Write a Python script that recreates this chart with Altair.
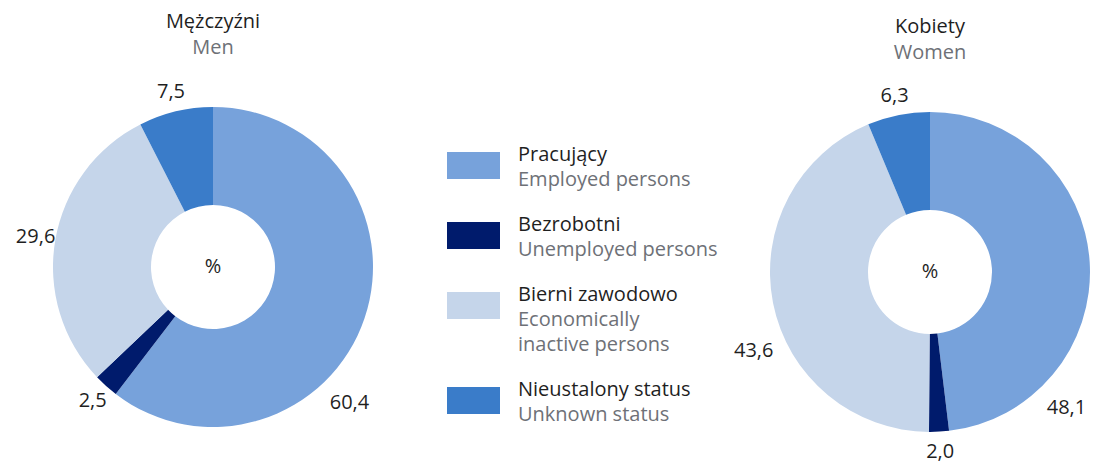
import altair as alt
import pandas as pd

# ---- data ----
categories_pl = ["Pracujący", "Bezrobotni", "Bierni zawodowo", "Nieustalony status"]
categories_en = [["Employed persons"], ["Unemployed persons"],
                 ["Economically", "inactive persons"], ["Unknown status"]]
men_values = [60.4, 2.5, 29.6, 7.5]
women_values = [48.1, 2.0, 43.6, 6.3]
colors = ["#77A2DB", "#001B6C", "#C5D5EA", "#3A7CC9"]

# ---- style ----
FONT = "Open Sans"
DARK = "#1f1f1f"
GRAY = "#6e7177"
FS = 20
OUTER, INNER = 160, 62
LABEL_R = 180
LABEL_R_MOVED = 193
W, H = 1082, 456

color_scale = alt.Scale(domain=categories_pl, range=colors)


def text_layer(df, color, **enc):
    return alt.Chart(df).mark_text(
        fontSize=FS, font=FONT, color=color, baseline="alphabetic", align="center"
    ).encode(**enc)


def pie(values, title, subtitle, cx, cy, title_y, label_angles):
    df = pd.DataFrame({"cat": categories_pl, "order": list(range(len(values))), "value": values})
    arcs = alt.Chart(df).mark_arc(outerRadius=OUTER, innerRadius=INNER).encode(
        theta=alt.Theta("value:Q", stack=True),
        order=alt.Order("order:Q", sort="ascending"),
        color=alt.Color("cat:N", scale=color_scale, legend=None),
        x=alt.value(cx),
        y=alt.value(cy),
    )
    # manual label placement (angle in degrees) for some slices, mid-angle otherwise
    ang_expr = "datum.mid"
    r_expr = str(LABEL_R)
    for k, deg in label_angles.items():
        ang_expr = f"datum.order == {k} ? {deg} * PI / 180 : ({ang_expr})"
        r_expr = f"datum.order == {k} ? {LABEL_R_MOVED} : ({r_expr})"
    labels = alt.Chart(df).transform_joinaggregate(total="sum(value)").transform_window(
        cum="sum(value)", sort=[alt.SortField("order")], frame=[None, 0]
    ).transform_calculate(
        mid="(datum.cum - datum.value / 2) / datum.total * 2 * PI",
        ang=ang_expr,
        rr=r_expr,
    ).transform_calculate(
        lx=f"{cx} + datum.rr * sin(datum.ang)",
        ly=f"{cy} - datum.rr * cos(datum.ang)",
        lab="replace(format(datum.value, '.1f'), '.', ',')",
    ).mark_text(fontSize=FS, font=FONT, color=DARK, baseline="middle", align="center").encode(
        x=alt.X("lx:Q", scale=None, axis=None),
        y=alt.Y("ly:Q", scale=None, axis=None),
        text="lab:N",
    )
    pct = alt.Chart(pd.DataFrame({"t": ["%"]})).mark_text(
        fontSize=FS, font=FONT, color=DARK, baseline="middle", align="center"
    ).encode(x=alt.value(cx), y=alt.value(cy), text="t:N")
    t1 = text_layer(pd.DataFrame({"t": [title]}), DARK,
                    x=alt.value(cx), y=alt.value(title_y), text="t:N")
    t2 = text_layer(pd.DataFrame({"t": [subtitle]}), GRAY,
                    x=alt.value(cx), y=alt.value(title_y + 26), text="t:N")
    return [arcs, labels, pct, t1, t2]


# ---- legend ----
LEG_X_RECT, LEG_X_RECT2, LEG_X_TEXT = 439, 492, 510
LEG_BASE, LEG_LINE, LEG_GAP = 153, 25, 20

leg_lines = []
leg_items = []
cum = 0
for k, (pl, en) in enumerate(zip(categories_pl, categories_en)):
    leg_items.append({"cat": pl, "item": k, "line": cum})
    leg_lines.append({"text": pl, "item": k, "line": cum, "kind": "pl"})
    for j, line in enumerate(en):
        leg_lines.append({"text": line, "item": k, "line": cum + 1 + j, "kind": "en"})
    cum += 1 + len(en)

ypos = f"{LEG_BASE} + datum.line * {LEG_LINE} + datum.item * {LEG_GAP}"

leg_rect = alt.Chart(pd.DataFrame(leg_items)).transform_calculate(
    y0=f"{ypos} - 9", y1=f"{ypos} + 18"
).mark_rect().encode(
    x=alt.value(LEG_X_RECT), x2=alt.value(LEG_X_RECT2),
    y=alt.Y("y0:Q", scale=None, axis=None), y2="y1:Q",
    color=alt.Color("cat:N", scale=color_scale, legend=None),
)
leg_df = pd.DataFrame(leg_lines)


def leg_text(kind, color):
    return alt.Chart(leg_df).transform_filter(f"datum.kind == '{kind}'").transform_calculate(
        yy=ypos
    ).mark_text(fontSize=FS, font=FONT, color=color, align="left", baseline="alphabetic").encode(
        x=alt.value(LEG_X_TEXT),
        y=alt.Y("yy:Q", scale=None, axis=None),
        text="text:N",
    )


layers = []
layers += pie(men_values, "Mężczyźni", "Men", 205, 259, 20, {0: 135})
layers += pie(women_values, "Kobiety", "Women", 922, 264, 25, {0: 135, 2: 246})
layers += [leg_rect, leg_text("pl", DARK), leg_text("en", GRAY)]

chart = alt.layer(*layers).resolve_scale(theta="independent").properties(
    width=W, height=H, padding=0,
    autosize=alt.AutoSizeParams(type="none"),
).configure(font=FONT).configure_view(stroke="transparent", strokeWidth=0)

chart.save("out.html", embed_options={"renderer": "svg", "actions": False})
